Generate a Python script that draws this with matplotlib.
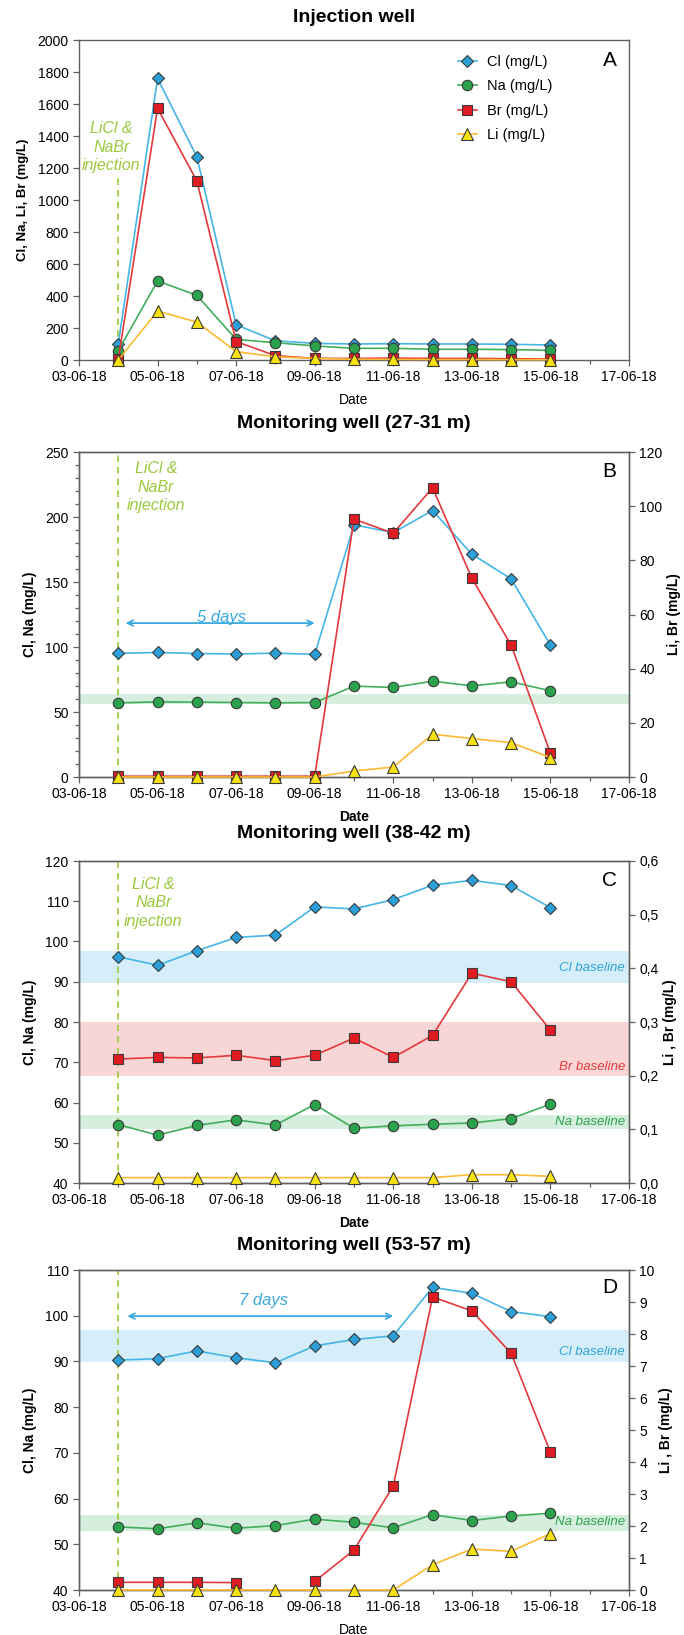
import numpy as np
import pandas as pd
import matplotlib
matplotlib.use("Agg")
import matplotlib.pyplot as plt
import matplotlib.dates as mdates
from matplotlib.ticker import MultipleLocator, FuncFormatter

plt.rcParams['font.family'] = ['Liberation Sans', 'DejaVu Sans']
NARROW = ['Liberation Sans Narrow', 'Liberation Sans', 'DejaVu Sans']

# sampling dates (daily, 04-06-18 .. 15-06-18)
dates = pd.date_range('2018-06-04', '2018-06-15', freq='D')

# A - injection well (mg/L)
cl_A = [100, 1760, 1270, 220, 120, 104, 100, 102, 100, 100, 98, 94]
na_A = [58, 494, 404, 129, 108, 88, 73, 73, 67, 67, 65, 60]
br_A = [5, 1573, 1119, 115, 27, 10, 10, 12, 10, 10, 8, 6]
li_A = [0, 306, 237, 52, 20, 10, 5, 4, 3, 3, 2, 2]

# B - monitoring well 27-31 m
cl_B = [95.1, 95.8, 95.0, 94.6, 95.3, 94.3, 194, 188, 205, 171.4, 152.4, 101.5]
na_B = [57.0, 57.8, 57.6, 57.3, 57.0, 57.3, 69.9, 68.9, 73.7, 70.1, 73.2, 66.3]
br_B = [0.3, 0.3, 0.3, 0.3, 0.3, 0.3, 95.2, 90.0, 106.8, 73.4, 48.7, 8.8]
li_B = [0, 0, 0, 0, 0, 0, 2.2, 3.7, 15.8, 14.2, 12.7, 7.2]

# C - monitoring well 38-42 m
cl_C = [96.2, 94.1, 97.7, 101.0, 101.6, 108.6, 108.1, 110.4, 114.0, 115.2, 113.9, 108.4]
na_C = [54.5, 51.9, 54.3, 55.7, 54.4, 59.5, 53.6, 54.2, 54.6, 54.9, 56.0, 59.6]
br_C = [0.231, 0.234, 0.233, 0.238, 0.228, 0.238, 0.270, 0.234, 0.275, 0.391, 0.375, 0.285]
li_C = [0.010, 0.010, 0.010, 0.010, 0.010, 0.010, 0.010, 0.010, 0.010, 0.0155, 0.0155, 0.0124]

# D - monitoring well 53-57 m
cl_D = [90.3, 90.6, 92.3, 90.8, 89.7, 93.4, 94.8, 95.6, 106.2, 104.9, 100.9, 99.8]
na_D = [53.8, 53.4, 54.7, 53.5, 54.1, 55.5, 54.8, 53.6, 56.5, 55.2, 56.2, 56.8]
br_D = [0.24, 0.24, 0.24, 0.23, np.nan, 0.27, 1.25, 3.25, 9.16, 8.72, 7.40, 4.30]
li_D = [0, 0, 0, 0, 0, 0, 0, 0, 0.79, 1.28, 1.21, 1.76]

# baselines (low, high)
na_base_B = (56, 64)
cl_base_C = (89.8, 97.7)
br_base_C = (0.2, 0.3)
na_base_C = (53.4, 57.0)
cl_base_D = (89.8, 96.9)
na_base_D = (52.9, 56.3)

injection = pd.Timestamp('2018-06-04')

STY = {
    'Cl': dict(marker='D', ms=6.5, color='#45b5e6', mfc='#2a9fd8'),
    'Na': dict(marker='o', ms=7.5, color='#42ae5c', mfc='#2ba24c'),
    'Br': dict(marker='s', ms=7, color='#e5383b', mfc='#e11b22'),
    'Li': dict(marker='^', ms=8, color='#fdba31', mfc='#f7e10e'),
}
EDGE = '#3a3a3a'
SPINE = '#606060'
GREEN_TXT = '#9bc93c'


def line(ax, y, key, label=None):
    s = STY[key]
    ax.plot(dates, y, marker=s['marker'], ms=s['ms'], color=s['color'], mfc=s['mfc'],
            mec=EDGE, mew=0.8, lw=1.2, clip_on=False, label=label, zorder=3)


def style_axis(ax):
    for sp in ax.spines.values():
        sp.set_color(SPINE)
        sp.set_linewidth(1.0)
    ax.set_xlim(pd.Timestamp('2018-06-03'), pd.Timestamp('2018-06-17'))
    ax.xaxis.set_major_locator(mdates.DayLocator(bymonthday=[3, 5, 7, 9, 11, 13, 15, 17]))
    ax.xaxis.set_minor_locator(mdates.DayLocator())
    ax.xaxis.set_major_formatter(mdates.DateFormatter('%d-%m-%y'))
    ax.tick_params(which='both', direction='out', color=SPINE, labelsize=10, width=0.9)
    ax.tick_params(which='major', length=4)
    ax.tick_params(which='minor', length=3)


fig = plt.figure(figsize=(6.84, 16.35), dpi=100)
L, W = 79 / 684, 550 / 684
rects = [(40, 360), (452, 777), (861, 1183), (1270, 1590)]
axes = [fig.add_axes([L, 1 - b / 1635, W, (b - t) / 1635]) for t, b in rects]
titles = ['Injection well', 'Monitoring well (27-31 m)',
          'Monitoring well (38-42 m)', 'Monitoring well (53-57 m)']
title_y = [17, 423, 833, 1245]
for t, y in zip(titles, title_y):
    fig.text(354 / 684, 1 - y / 1635, t, ha='center', va='center', fontsize=14,
             fontweight='bold', family=NARROW)

# ---- A ----
ax = axes[0]
style_axis(ax)
ax.set_ylim(0, 2000)
ax.yaxis.set_major_locator(MultipleLocator(200))
ax.tick_params(axis='y', which='minor', left=False)
line(ax, cl_A, 'Cl', 'Cl (mg/L)')
line(ax, na_A, 'Na', 'Na (mg/L)')
line(ax, br_A, 'Br', 'Br (mg/L)')
line(ax, li_A, 'Li', 'Li (mg/L)')
ax.plot([injection, injection], [0, 1140], ls=(0, (4, 3)), color=GREEN_TXT, lw=1.2, zorder=1)
ax.text(pd.Timestamp('2018-06-03 19:40'), 1331, 'LiCl &\nNaBr\ninjection', color=GREEN_TXT,
        style='italic', ha='center', va='center', fontsize=11.5, family=NARROW, linespacing=1.3)
ax.set_ylabel('Cl, Na, Li, Br (mg/L)', fontsize=9.5, fontweight='bold', labelpad=6)
ax.set_xlabel('Date', fontsize=10, labelpad=6)
ax.legend(loc='upper left', bbox_to_anchor=(0.665, 0.995), frameon=False, fontsize=10.5,
          handlelength=1.3, handletextpad=0.7, labelspacing=0.72)
ax.text(0.965, 0.935, 'A', transform=ax.transAxes, ha='center', va='center', fontsize=15, family=NARROW)


def twin(ax, ylim, step, fmt=None, label='Li, Br (mg/L)'):
    ax2 = ax.twinx()
    style_axis(ax2)
    ax2.set_ylim(*ylim)
    ax2.yaxis.set_major_locator(MultipleLocator(step))
    ax2.tick_params(axis='y', which='minor', right=False)
    if fmt:
        ax2.yaxis.set_major_formatter(FuncFormatter(fmt))
    ax2.set_ylabel(label, fontsize=10, fontweight='bold', labelpad=3)
    return ax2


def inj_text(ax, x, y):
    ax.text(x, y, 'LiCl &\nNaBr\ninjection', color=GREEN_TXT, style='italic', ha='center',
            va='center', fontsize=11.5, family=NARROW, linespacing=1.3)


def band(ax, lo, hi, color):
    ax.axhspan(lo, hi, color=color, lw=0, zorder=0)


def label_base(ax, y, text, color):
    ax.text(0.993, y, text, transform=ax.get_yaxis_transform(), ha='right', va='center',
            color=color, style='italic', fontsize=9.5, family=NARROW)


def days_arrow(ax, x0, x1, y, text, ty, tx):
    ax.annotate('', xy=(x0, y), xytext=(x1, y),
                arrowprops=dict(arrowstyle='<->', color='#3aa9df', lw=1.3, shrinkA=0, shrinkB=0))
    ax.text(tx, ty, text, color='#3aa9df', style='italic', ha='center', va='center',
            fontsize=12, family=NARROW)


# ---- B ----
ax = axes[1]
style_axis(ax)
ax.set_ylim(0, 250)
ax.yaxis.set_major_locator(MultipleLocator(50))
ax.yaxis.set_minor_locator(MultipleLocator(10))
band(ax, *na_base_B, '#d6eedd')
ax.axvline(injection, ls=(0, (4, 3)), color=GREEN_TXT, lw=1.2, zorder=1)
line(ax, cl_B, 'Cl')
line(ax, na_B, 'Na')
inj_text(ax, pd.Timestamp('2018-06-04 23:00'), 223)
days_arrow(ax, pd.Timestamp('2018-06-04 04:30'), pd.Timestamp('2018-06-09'), 118.4,
           '5 days', 123, pd.Timestamp('2018-06-06 15:00'))
ax.set_ylabel('Cl, Na (mg/L)', fontsize=10, fontweight='bold', labelpad=6)
ax.set_xlabel('Date', fontsize=10, fontweight='bold', labelpad=6)
ax.text(0.965, 0.94, 'B', transform=ax.transAxes, ha='center', va='center', fontsize=15, family=NARROW)
ax2 = twin(ax, (0, 120), 20)
line(ax2, br_B, 'Br')
line(ax2, li_B, 'Li')

# ---- C ----
ax = axes[2]
style_axis(ax)
ax.set_ylim(40, 120)
ax.yaxis.set_major_locator(MultipleLocator(10))
ax.tick_params(axis='y', which='minor', left=False)
band(ax, *cl_base_C, '#d5eef9')
k = 80 / 0.6
band(ax, 40 + br_base_C[0] * k, 40 + br_base_C[1] * k, '#f8d6d6')
band(ax, *na_base_C, '#d6eedd')
ax.axvline(injection, ls=(0, (4, 3)), color=GREEN_TXT, lw=1.2, zorder=1)
line(ax, cl_C, 'Cl')
line(ax, na_C, 'Na')
inj_text(ax, pd.Timestamp('2018-06-04 21:30'), 109.6)
label_base(ax, 93.4, 'Cl baseline', '#2ea3dc')
label_base(ax, 68.8, 'Br baseline', '#e5383b')
label_base(ax, 55.2, 'Na baseline', '#2ba24c')
ax.set_ylabel('Cl, Na (mg/L)', fontsize=10, fontweight='bold', labelpad=6)
ax.set_xlabel('Date', fontsize=10, fontweight='bold', labelpad=6)
ax.text(0.965, 0.94, 'C', transform=ax.transAxes, ha='center', va='center', fontsize=15, family=NARROW)
ax2 = twin(ax, (0, 0.6), 0.1, fmt=lambda v, p: f'{v:.1f}'.replace('.', ','), label='Li , Br (mg/L)')
line(ax2, br_C, 'Br')
line(ax2, li_C, 'Li')

# ---- D ----
ax = axes[3]
style_axis(ax)
ax.set_ylim(40, 110)
ax.yaxis.set_major_locator(MultipleLocator(10))
ax.tick_params(axis='y', which='minor', left=False)
band(ax, *cl_base_D, '#d5eef9')
band(ax, *na_base_D, '#d6eedd')
ax.axvline(injection, ls=(0, (4, 3)), color=GREEN_TXT, lw=1.2, zorder=1)
line(ax, cl_D, 'Cl')
line(ax, na_D, 'Na')
days_arrow(ax, pd.Timestamp('2018-06-04 05:30'), pd.Timestamp('2018-06-11'), 99.9,
           '7 days', 103.3, pd.Timestamp('2018-06-07 17:00'))
label_base(ax, 92.1, 'Cl baseline', '#2ea3dc')
label_base(ax, 54.9, 'Na baseline', '#2ba24c')
ax.set_ylabel('Cl, Na (mg/L)', fontsize=10, fontweight='bold', labelpad=6)
ax.set_xlabel('Date', fontsize=10, labelpad=6)
ax.text(0.965, 0.944, 'D', transform=ax.transAxes, ha='center', va='center', fontsize=15, family=NARROW)
ax2 = twin(ax, (0, 10), 1, label='Li , Br (mg/L)')
line(ax2, br_D, 'Br')
line(ax2, li_D, 'Li')

fig.savefig('out.png', dpi=100)
